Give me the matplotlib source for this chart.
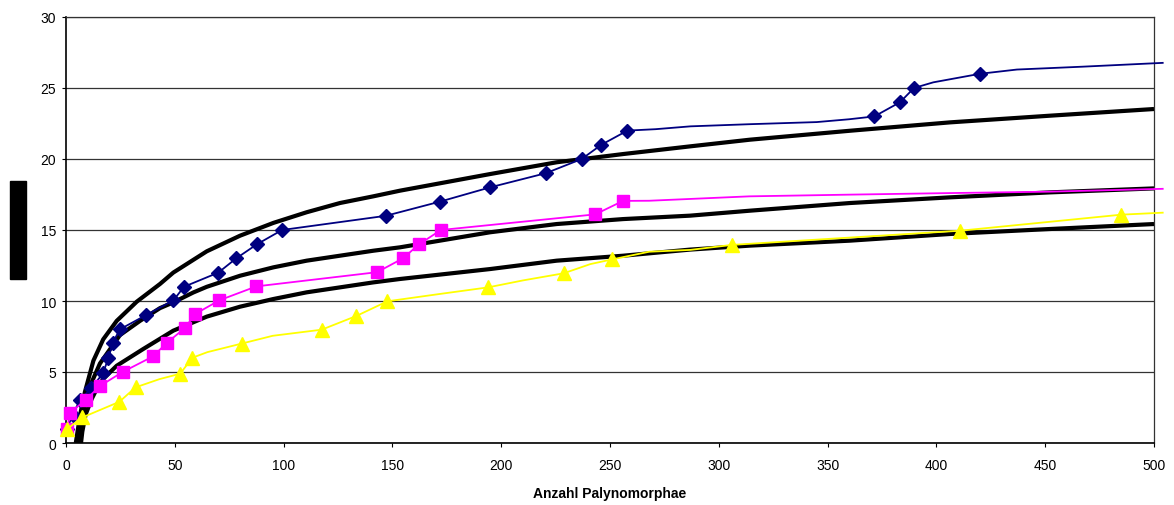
import matplotlib
matplotlib.use("Agg")
import matplotlib.pyplot as plt
from matplotlib.patches import Rectangle

plt.rcParams['font.family'] = ['Liberation Sans', 'DejaVu Sans']

# blue series (line + observed points)
blue_x = [0.6, 3, 6.4, 11.5, 17, 19.5, 21.5, 24.7, 36.7, 49.4, 54.2, 70, 78.2, 87.8, 99.3, 147, 171.9,
          194.8, 220.5, 237, 246, 258, 271, 287, 314, 345, 360, 371.5, 383.3, 389.7, 398.6, 420, 437, 467, 504]
blue_y = [1, 2, 3, 3.85, 4.9, 6, 7.05, 8, 9, 10.05, 11, 12, 13, 14, 15, 16, 17,
          18, 19, 20, 21, 22, 22.1, 22.3, 22.45, 22.6, 22.8, 23, 24, 25, 25.4, 26, 26.3, 26.5, 26.77]
blue_mx = [0.6, 3, 6.4, 11.5, 17, 19.5, 21.5, 24.7, 36.7, 49.4, 54.2, 70, 78.2, 87.8, 99.3, 147, 171.9,
           194.8, 220.5, 237, 246, 258, 371.5, 383.3, 389.7, 420]
blue_my = [1, 2, 3, 3.85, 4.9, 6, 7.05, 8, 9, 10.05, 11, 12, 13, 14, 15, 16, 17,
           18, 19, 20, 21, 22, 23, 24, 25, 26]

# magenta series
mag_x = [0.6, 1.8, 9, 15.8, 26, 40, 46.3, 54.7, 59.3, 70.5, 87.5, 143, 154.8, 162.3, 172.3, 243.2, 256,
         268, 314, 360, 406, 452, 504]
mag_y = [1, 2.1, 3.05, 4.03, 5, 6.1, 7.05, 8.1, 9.08, 10.05, 11.03, 12.03, 13, 14, 15, 16.1, 17.05,
         17.06, 17.37, 17.49, 17.6, 17.7, 17.9]
mag_mx = mag_x[:17]
mag_my = mag_y[:17]

# yellow series
yel_x = [0.6, 7.5, 24.5, 32, 43, 52.5, 58, 65, 80.7, 95, 117.5, 133.5, 147.7, 172, 194, 210, 228.7,
         241, 251, 268, 287, 306, 411, 485, 504]
yel_y = [1, 1.8, 2.9, 3.92, 4.5, 4.88, 6, 6.4, 7, 7.55, 7.98, 8.95, 9.98, 10.5, 10.96, 11.45, 11.95,
         12.6, 12.93, 13.47, 13.6, 13.95, 14.95, 16.08, 16.22]
yel_mx = [0.6, 7.5, 24.5, 32, 52.5, 58, 80.7, 117.5, 133.5, 147.7, 194, 228.7, 251, 306, 411, 485]
yel_my = [1, 1.8, 2.9, 3.92, 4.88, 6, 7, 7.98, 8.95, 9.98, 10.96, 11.95, 12.93, 13.95, 14.95, 16.08]

# black curves
up_x = [4.5, 5.5, 6.5, 8.7, 12.6, 17.1, 23.3, 32.5, 43.2, 49.3, 64.7, 80, 95.3, 110.6, 125.9, 141.2, 153.5,
        194.9, 225.5, 256.1, 286.8, 314.3, 360.3, 406.3, 452.2, 500]
up_y = [0, 1.0, 2.0, 3.6, 5.8, 7.3, 8.6, 9.95, 11.2, 12.0, 13.5, 14.6, 15.5, 16.25, 16.9, 17.37, 17.77,
        18.94, 19.77, 20.35, 20.89, 21.36, 21.99, 22.58, 23.05, 23.52]
mid_x = [5.7, 6.5, 8, 11, 15.6, 24.8, 34, 43.2, 49.3, 58.5, 64.7, 80, 95.3, 110.6, 125.9, 141.2, 153.5,
         194.9, 225.5, 256.1, 286.8, 314.3, 360.3, 406.3, 452.2, 500]
mid_y = [0, 0.9, 2.2, 4.0, 5.6, 7.6, 8.6, 9.5, 9.9, 10.6, 11.0, 11.78, 12.37, 12.84, 13.19, 13.54, 13.78,
         14.84, 15.42, 15.77, 16.01, 16.36, 16.9, 17.3, 17.65, 17.93]
low_x = [6.9, 7.5, 9, 11.8, 14.1, 17, 23.3, 35.5, 49.3, 64.7, 80, 95.3, 110.6, 125.9, 141.2, 153.5,
         194.9, 225.5, 256.1, 286.8, 314.3, 360.3, 406.3, 452.2, 500]
low_y = [0, 0.8, 2.0, 3.1, 3.8, 4.5, 5.44, 6.62, 7.91, 8.9, 9.6, 10.14, 10.61, 10.96, 11.31, 11.55,
         12.25, 12.84, 13.19, 13.62, 13.9, 14.25, 14.72, 15.07, 15.42]

fig = plt.figure(figsize=(11.74, 5.06), dpi=100)
ax = fig.add_axes([66/1174, 1-444/506, (1154-66)/1174, (444-18)/506])

for xs, ys in [(up_x, up_y), (mid_x, mid_y), (low_x, low_y)]:
    ax.plot(xs, ys, color='black', lw=3, zorder=3, solid_capstyle='butt')

ax.plot(blue_x, blue_y, color='#000080', lw=1.3, zorder=4, clip_on=False)
ax.plot(blue_mx, blue_my, 'D', color='#000080', ms=7, zorder=4, clip_on=False)
ax.plot(mag_x, mag_y, color='#FF00FF', lw=1.3, zorder=4, clip_on=False)
ax.plot(mag_mx, mag_my, 's', color='#FF00FF', ms=8, zorder=4, clip_on=False)
ax.plot(yel_x, yel_y, color='#FFFF00', lw=1.3, zorder=4, clip_on=False)
ax.plot(yel_mx, yel_my, '^', color='#FFFF00', ms=10, zorder=4, clip_on=False)

ax.set_xlim(0, 500)
ax.set_ylim(0, 30)
ax.set_xticks(range(0, 501, 50))
ax.set_yticks(range(0, 31, 5))
ax.yaxis.grid(True, color='#333333', lw=0.9)
ax.set_axisbelow(True)
ax.tick_params(axis='both', direction='out', length=3, width=0.8, labelsize=10)
ax.tick_params(axis='x', pad=8)
ax.tick_params(axis='y', pad=4)
for s in ['left', 'bottom']:
    ax.spines[s].set_color('black')
    ax.spines[s].set_linewidth(1.2)
for s in ['right', 'top']:
    ax.spines[s].set_color('#333333')
    ax.spines[s].set_linewidth(0.9)

ax.set_xlabel('Anzahl Palynomorphae', fontsize=10, fontweight='bold', labelpad=10)

# black box where the y label sits
fig.patches.append(Rectangle((10/1174, 1-280/506), 16/1174, 98/506,
                             transform=fig.transFigure, color='black'))

fig.savefig('out.png', dpi=100)
